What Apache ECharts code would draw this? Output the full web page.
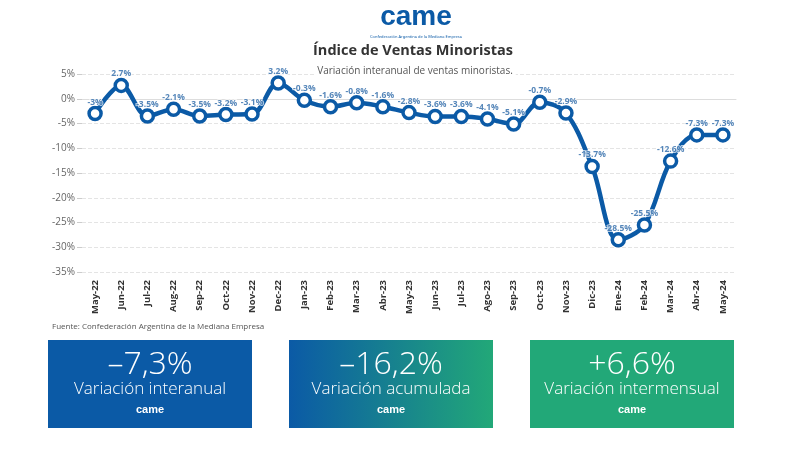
<!DOCTYPE html>
<html><head><meta charset="utf-8">
<script src="https://cdn.jsdelivr.net/npm/echarts@6/dist/echarts.min.js"></script>
<style>html,body{margin:0;padding:0;background:#fff}#c{width:800px;height:450px}</style>
</head><body><div id="c"></div>
<script>
const categories = ['May-22','Jun-22','Jul-22','Aug-22','Sep-22','Oct-22','Nov-22','Dec-22','Jan-23','Feb-23','Mar-23','Abr-23','May-23','Jun-23','Jul-23','Ago-23','Sep-23','Oct-23','Nov-23','Dic-23','Ene-24','Feb-24','Mar-24','Abr-24','May-24'];
const values = [-3, 2.7, -3.5, -2.1, -3.5, -3.2, -3.1, 3.2, -0.3, -1.6, -0.8, -1.6, -2.8, -3.6, -3.6, -4.1, -5.1, -0.7, -2.9, -13.7, -28.5, -25.5, -12.6, -7.3, -7.3];
const yTicks = {min: -35, max: 5, interval: 5};
const boxValues = ['-7,3%', '-16,2%', '+6,6%'];
const boxLabels = ['Variación interanual', 'Variación acumulada', 'Variación intermensual'];

const blue = '#0b5aa6';
const green = '#22a878';
const chart = echarts.init(document.getElementById('c'), null, {renderer: 'canvas'});

const boxes = [];
const boxX = [48, 289, 530];
for (let i = 0; i < 3; i++) {
  const fill = i === 0 ? blue : (i === 2 ? green : new echarts.graphic.LinearGradient(0, 0, 1, 0, [{offset: 0, color: blue}, {offset: 1, color: green}]));
  boxes.push({type: 'rect', shape: {x: boxX[i], y: 340, width: 204, height: 88}, style: {fill: fill}});
  boxes.push({type: 'text', x: boxX[i] + 102, y: 349, style: {text: boxValues[i].replace('-', '–'), fill: '#fff', font: '300 32px "Open Sans"', textAlign: 'center'}});
  boxes.push({type: 'text', x: boxX[i] + 102, y: 381, style: {text: boxLabels[i], fill: '#fff', font: '300 17px "Open Sans"', textAlign: 'center'}});
  boxes.push({type: 'text', x: boxX[i] + 102, y: 404, style: {text: 'came', fill: '#fff', font: 'bold 11px "Liberation Sans"', textAlign: 'center'}});
}

chart.setOption({
  animation: false,
  grid: {left: 82, right: 64, top: 74, bottom: 178},
  graphic: [
    {type: 'text', x: 416, y: 3, style: {text: 'came', fill: blue, font: 'bold 28px "Liberation Sans"', textAlign: 'center'}},
    {type: 'text', x: 416, y: 35, style: {text: 'Confederación Argentina de la Mediana Empresa', fill: blue, font: '4px "Noto Sans"', textAlign: 'center'}},
    {type: 'text', x: 413, y: 43, style: {text: 'Índice de Ventas Minoristas', fill: '#333', font: 'bold 14.5px "Open Sans"', textAlign: 'center'}},
    {type: 'text', x: 415, y: 66, z: 10, style: {text: 'Variación interanual de ventas minoristas.', fill: '#555', font: '10px "Open Sans"', textAlign: 'center', backgroundColor: '#fff', padding: [0, 3]}},
    {type: 'text', x: 52, y: 323, style: {text: 'Fuente: Confederación Argentina de la Mediana Empresa', fill: '#555', font: '8px "Open Sans"'}}
  ].concat(boxes),
  xAxis: {
    type: 'category', data: categories, boundaryGap: true,
    axisLine: {lineStyle: {color: '#ddd'}},
    axisTick: {alignWithLabel: true, lineStyle: {color: '#ddd'}, length: 5},
    axisLabel: {rotate: 90, fontSize: 9.5, fontWeight: 'bold', color: '#333', fontFamily: 'Open Sans', margin: 8, interval: 0}
  },
  yAxis: {
    type: 'value', min: yTicks.min, max: yTicks.max, interval: yTicks.interval,
    axisLine: {show: false},
    axisTick: {show: true, length: 5, lineStyle: {color: '#ccc'}},
    axisLabel: {formatter: '{value}%', fontSize: 10, color: '#666', fontFamily: 'Open Sans', margin: 7},
    splitLine: {lineStyle: {color: '#e4e4e4', type: 'dashed'}}
  },
  series: [{
    type: 'line', data: values, smooth: 0.35, z: 2,
    lineStyle: {color: blue, width: 4.5},
    symbol: 'circle', symbolSize: 12,
    itemStyle: {color: '#fff', borderColor: blue, borderWidth: 3.5},
    label: {show: false}
  }, {
    type: 'scatter', data: values, zlevel: 1, z: 5, symbolSize: 12, silent: true,
    itemStyle: {color: 'rgba(0,0,0,0)'},
    label: {show: true, position: 'top', distance: 1, formatter: p => p.value + '%', color: '#2a68a8', fontSize: 8.5, fontWeight: 'bold', fontFamily: 'Open Sans', textBorderColor: 'rgba(255,255,255,0.85)', textBorderWidth: 2}
  }]
});
</script></body></html>
